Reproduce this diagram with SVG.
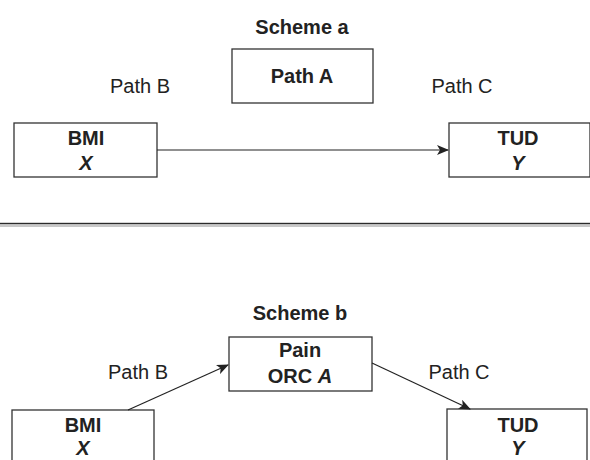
<svg xmlns="http://www.w3.org/2000/svg" width="590" height="460" viewBox="0 0 590 460">
  <defs>
    <marker id="arrow" viewBox="0 0 12 10" refX="11" refY="5" markerWidth="12" markerHeight="10" markerUnits="userSpaceOnUse" orient="auto">
      <path d="M0,0 L12,5 L0,10 L3,5 Z" fill="#222"/>
    </marker>
  </defs>
  <style>
    text { font-family: "Liberation Sans", Arial, sans-serif; fill: #222; text-anchor: middle; font-size: 20px; }
    .bold { font-weight: bold; }
    .it { font-style: italic; }
    .box { fill: #fff; stroke: #333; stroke-width: 1.3; }
    .edge { stroke: #222; stroke-width: 1.2; fill: none; marker-end: url(#arrow); }
  </style>
  <rect width="590" height="460" fill="#fff"/>

  <!-- Scheme a -->
  <text class="bold" x="302" y="34">Scheme a</text>
  <g id="a-pathA">
    <rect class="box" x="232" y="49" width="141" height="54"/>
    <text class="bold" x="302" y="83">Path A</text>
  </g>
  <text x="140" y="93">Path B</text>
  <text x="462" y="93">Path C</text>
  <g id="a-bmi">
    <rect class="box" x="14" y="123" width="143" height="54"/>
    <text class="bold" x="86" y="145">BMI</text>
    <text class="bold it" x="86" y="170">X</text>
  </g>
  <g id="a-tud">
    <rect class="box" x="449" y="123" width="141" height="54"/>
    <text class="bold" x="518" y="145">TUD</text>
    <text class="bold it" x="518" y="170">Y</text>
  </g>
  <g id="a-edges">
    <line class="edge" x1="157" y1="150" x2="448" y2="150"/>
  </g>

  <!-- divider -->
  <rect x="0" y="222.8" width="590" height="1.6" fill="#2a2a2a"/>
  <rect x="0" y="224.4" width="590" height="2.6" fill="#c8c8c8"/>

  <!-- Scheme b -->
  <text class="bold" x="300" y="320">Scheme b</text>
  <g id="b-pain">
    <rect class="box" x="229" y="337" width="143" height="54"/>
    <text class="bold" x="300" y="357">Pain</text>
    <text class="bold" x="300" y="383">ORC <tspan class="it">A</tspan></text>
  </g>
  <text x="138" y="379">Path B</text>
  <text x="459" y="379">Path C</text>
  <g id="b-bmi">
    <rect class="box" x="12" y="410" width="142" height="60"/>
    <text class="bold" x="83" y="432">BMI</text>
    <text class="bold it" x="83" y="455">X</text>
  </g>
  <g id="b-tud">
    <rect class="box" x="447" y="409" width="140" height="60"/>
    <text class="bold" x="518" y="432">TUD</text>
    <text class="bold it" x="518" y="455">Y</text>
  </g>
  <g id="b-edges">
    <line class="edge" x1="128" y1="410" x2="228" y2="365"/>
    <line class="edge" x1="372" y1="363" x2="470" y2="409"/>
  </g>
</svg>
